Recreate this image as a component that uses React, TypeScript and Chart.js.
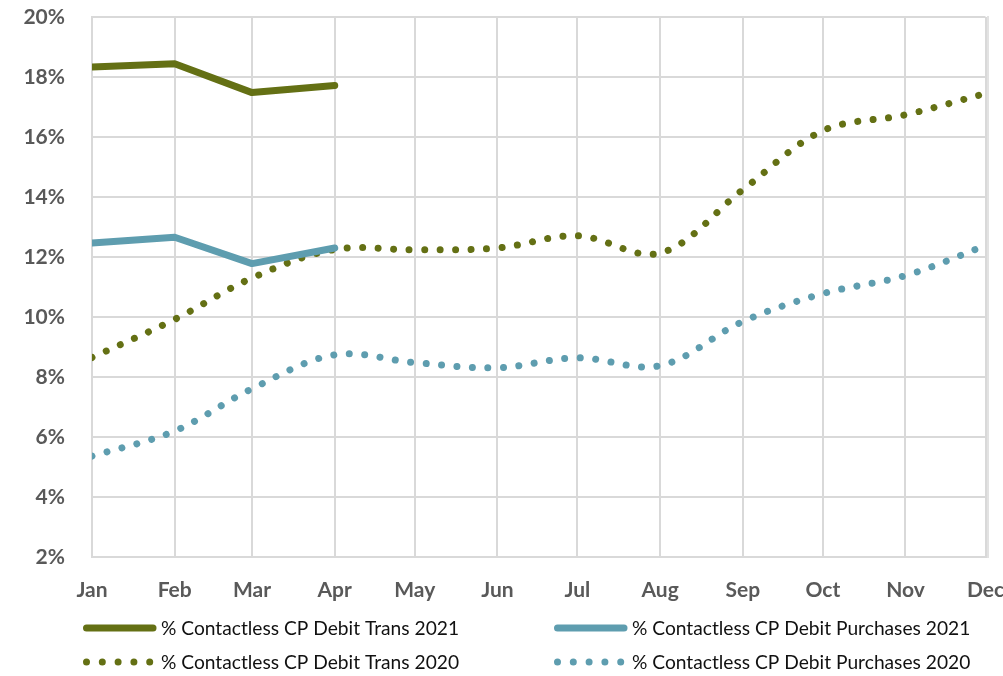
import React, { useEffect, useRef } from "react";
import { Chart, registerables } from "chart.js";

Chart.register(...registerables);

// ---- Data ----
const MONTH_LABELS = ["Jan", "Feb", "Mar", "Apr", "May", "Jun", "Jul", "Aug", "Sep", "Oct", "Nov", "Dec"];
// day-of-year (2020) of the first day of each month — date axis
const MONTH_START_DAY = [0, 31, 60, 91, 121, 152, 182, 213, 244, 274, 305, 335];

const TRANS_2021 = [18.33, 18.44, 17.48, 17.72];
const PURCH_2021 = [12.47, 12.66, 11.78, 12.3];
const TRANS_2020 = [8.65, 9.92, 11.3, 12.25, 12.24, 12.3, 12.71, 12.13, 14.24, 16.21, 16.74, 17.45];
const PURCH_2020 = [5.36, 6.2, 7.61, 8.74, 8.48, 8.31, 8.64, 8.38, 9.85, 10.78, 11.38, 12.38];

const SERIES_LABELS = [
  "% Contactless CP Debit Trans 2021",
  "% Contactless CP Debit Purchases 2021",
  "% Contactless CP Debit Trans 2020",
  "% Contactless CP Debit Purchases 2020",
];

const Y_MIN = 2;
const Y_MAX = 20;
const Y_STEP = 2;

const GREEN = "#647014";
const TEAL = "#5e9daf";
const GRID = "#d9d9d9";
const FONT = "Lato, 'Open Sans', sans-serif";

const DOT_DASH = [0.001, 15.5];

const toPoints = (vals: number[]) => vals.map((v, i) => ({ x: MONTH_START_DAY[i], y: v }));

const legendPlugin = {
  id: "customLegend",
  afterDraw(chart: any) {
    const ctx = chart.ctx as CanvasRenderingContext2D;
    const entries = [
      { ds: 0, col: 0, row: 0, dotted: false },
      { ds: 1, col: 1, row: 0, dotted: false },
      { ds: 2, col: 0, row: 1, dotted: true },
      { ds: 3, col: 1, row: 1, dotted: true },
    ];
    const colX = [83, 554];
    const rowY = [628, 662];
    ctx.save();
    entries.forEach((e) => {
      const ds = chart.data.datasets[e.ds];
      const x0 = colX[e.col];
      const y = rowY[e.row];
      ctx.strokeStyle = ds.borderColor;
      ctx.lineCap = "round";
      ctx.lineWidth = 7;
      ctx.beginPath();
      if (e.dotted) {
        ctx.setLineDash([0.001, 15.8]);
      } else {
        ctx.setLineDash([]);
      }
      ctx.moveTo(x0 + 3.5, y);
      ctx.lineTo(x0 + 70, y);
      ctx.stroke();
      ctx.setLineDash([]);
      ctx.fillStyle = "#111111";
      ctx.font = `19.2px ${FONT}`;
      ctx.textBaseline = "middle";
      ctx.textAlign = "left";
      ctx.fillText(ds.label, x0 + 78, y + 1);
    });
    ctx.restore();
  },
};

const rightBorderPlugin = {
  id: "rightBorder",
  beforeDatasetsDraw(chart: any) {
    const { ctx, chartArea } = chart;
    ctx.save();
    ctx.strokeStyle = GRID;
    ctx.lineWidth = 1.5;
    ctx.beginPath();
    ctx.moveTo(chartArea.right + 2.5, chartArea.top - 1);
    ctx.lineTo(chartArea.right + 2.5, chartArea.bottom + 1);
    ctx.stroke();
    ctx.restore();
  },
};

export default function App() {
  const canvasRef = useRef<HTMLCanvasElement | null>(null);

  useEffect(() => {
    if (!canvasRef.current) return;
    const chart = new Chart(canvasRef.current, {
      type: "line",
      data: {
        datasets: [
          {
            label: SERIES_LABELS[0],
            data: toPoints(TRANS_2021),
            borderColor: GREEN,
            backgroundColor: GREEN,
            borderWidth: 7,
            borderCapStyle: "round",
            borderJoinStyle: "round",
            pointRadius: 0,
            tension: 0,
          },
          {
            label: SERIES_LABELS[1],
            data: toPoints(PURCH_2021),
            borderColor: TEAL,
            backgroundColor: TEAL,
            borderWidth: 7,
            borderCapStyle: "round",
            borderJoinStyle: "round",
            pointRadius: 0,
            tension: 0,
          },
          {
            label: SERIES_LABELS[2],
            data: toPoints(TRANS_2020),
            borderColor: GREEN,
            backgroundColor: GREEN,
            borderWidth: 7,
            borderCapStyle: "round",
            borderDash: DOT_DASH,
            pointRadius: 0,
            tension: 0.35,
          },
          {
            label: SERIES_LABELS[3],
            data: toPoints(PURCH_2020),
            borderColor: TEAL,
            backgroundColor: TEAL,
            borderWidth: 7,
            borderCapStyle: "round",
            borderDash: DOT_DASH,
            pointRadius: 0,
            tension: 0.35,
          },
        ],
      },
      options: {
        animation: false,
        responsive: false,
        events: [],
        layout: { padding: { left: 0, right: 17.5, top: 17, bottom: 69 } },
        plugins: {
          legend: { display: false },
          tooltip: { enabled: false },
        },
        scales: {
          x: {
            type: "linear",
            min: MONTH_START_DAY[0],
            max: MONTH_START_DAY[MONTH_START_DAY.length - 1],
            afterBuildTicks: (scale: any) => {
              scale.ticks = MONTH_START_DAY.map((v) => ({ value: v }));
            },
            afterFit: (scale: any) => {
              scale.height = 50;
              scale.paddingLeft = 0;
              scale.paddingRight = 0;
            },
            ticks: {
              autoSkip: false,
              maxRotation: 0,
              padding: 21,
              color: "#595959",
              font: { family: FONT, size: 21, weight: "bold" },
              callback: (_v: any, i: number) => MONTH_LABELS[i],
            },
            grid: { color: GRID, lineWidth: 2, drawTicks: false },
            border: { color: GRID, width: 2 },
          },
          y: {
            min: Y_MIN,
            max: Y_MAX,
            afterFit: (scale: any) => {
              scale.width = 92;
              scale.paddingTop = 0;
              scale.paddingBottom = 0;
            },
            ticks: {
              stepSize: Y_STEP,
              padding: 27,
              color: "#595959",
              font: { family: FONT, size: 21, weight: "bold" },
              callback: (v: any) => `${v}%`,
            },
            grid: { color: GRID, lineWidth: 2, drawTicks: false },
            border: { color: GRID, width: 2 },
          },
        },
      },
      plugins: [rightBorderPlugin, legendPlugin],
    } as any);
    return () => chart.destroy();
  }, []);

  return (
    <div style={{ position: "absolute", left: 0, top: 0, width: 1003, height: 676, background: "#fff" }}>
      <canvas ref={canvasRef} width={1003} height={676} style={{ display: "block" }} />
    </div>
  );
}
